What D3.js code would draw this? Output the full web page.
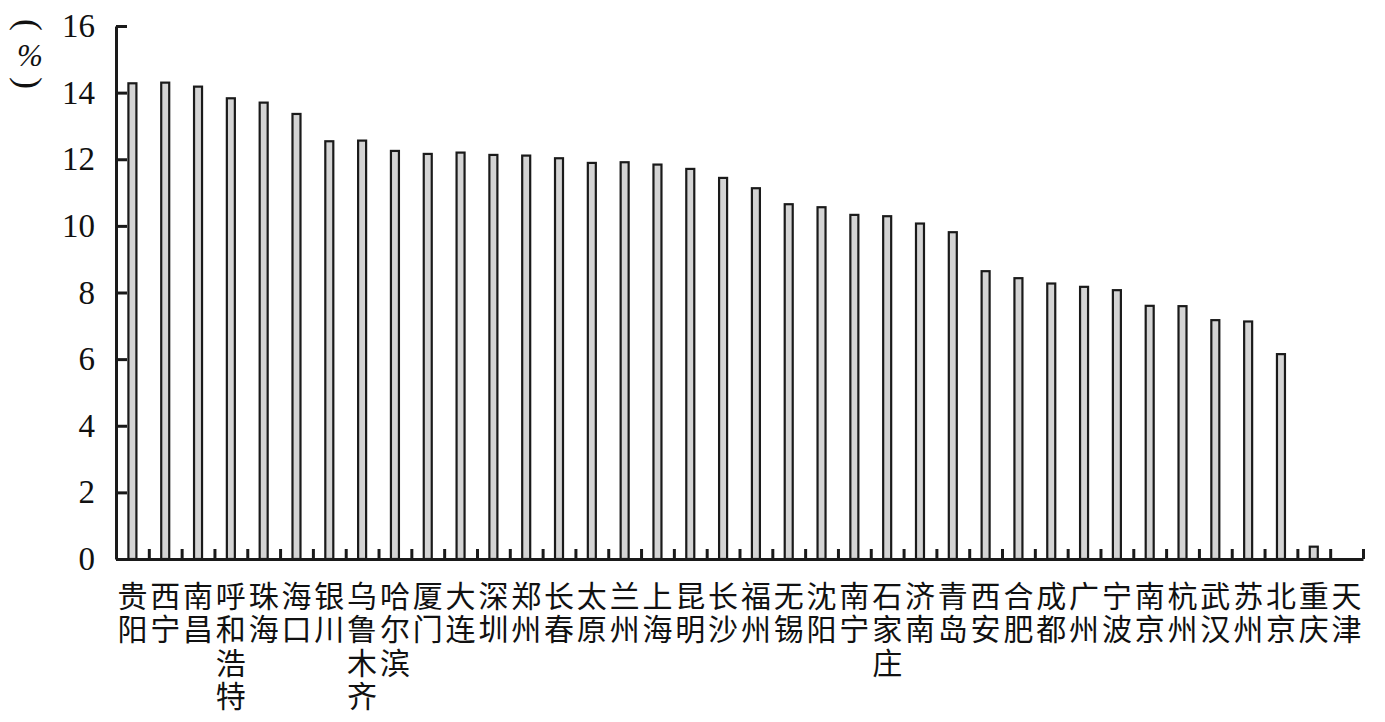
<!DOCTYPE html>
<html>
<head>
<meta charset="utf-8">
<script src="https://cdn.jsdelivr.net/npm/d3@7"></script>
<style>
  body { margin: 0; background: #fff; }
  svg { display: block; }
  .tick text { font-family: "Liberation Serif", serif; }
</style>
</head>
<body>
<div id="chart"></div>
<script>
// city names (characters are drawn one under the other)
var cities = ['贵阳','西宁','南昌','呼和浩特','珠海','海口','银川','乌鲁木齐','哈尔滨','厦门',
  '大连','深圳','郑州','长春','太原','兰州','上海','昆明','长沙','福州',
  '无锡','沈阳','南宁','石家庄','济南','青岛','西安','合肥','成都','广州',
  '宁波','南京','杭州','武汉','苏州','北京','重庆','天津'];

var rates = [14.28, 14.3, 14.18, 13.83, 13.7, 13.36, 12.54, 12.56, 12.25, 12.16,
  12.2, 12.13, 12.11, 12.03, 11.89, 11.91, 11.84, 11.71, 11.44, 11.13,
  10.65, 10.56, 10.33, 10.29, 10.07, 9.81, 8.64, 8.43, 8.27, 8.17,
  8.07, 7.6, 7.59, 7.17, 7.13, 6.15, 0.37, 0];

var yTicks = [0, 2, 4, 6, 8, 10, 12, 14, 16];

var W = 1385, H = 722;
var m = {left: 116, right: 1363, top: 26, bottom: 559};

var svg = d3.select('#chart').append('svg')
  .attr('width', W).attr('height', H);

var x = d3.scaleBand().domain(cities).range([m.left, m.right]).padding(0);
var xIdx = d3.scaleLinear().domain([0, cities.length]).range([m.left, m.right]);
var y = d3.scaleLinear().domain([0, 16]).range([m.bottom, m.top]);

var barW = 8;
var rows = cities.map((c, i) => ({city: c, rate: rates[i]}));

// bars (a zero value draws nothing)
svg.append('g').selectAll('rect')
  .data(rows.filter(d => d.rate > 0))
  .join('rect')
  .attr('x', d => x(d.city) + x.bandwidth() / 2 - barW / 2)
  .attr('y', d => y(d.rate))
  .attr('width', barW)
  .attr('height', d => y(0) - y(d.rate))
  .attr('fill', '#d4d4d4')
  .attr('stroke', '#1a1a1a')
  .attr('stroke-width', 2.2);

// x axis, ticks between categories pointing up
var xAxis = svg.append('g')
  .attr('transform', 'translate(0,' + m.bottom + ')')
  .call(d3.axisBottom(xIdx).tickValues(d3.range(cities.length + 1))
    .tickSizeInner(-10).tickSizeOuter(0).tickFormat(''));
xAxis.selectAll('path,line').attr('stroke', '#1a1a1a').attr('stroke-width', 3);

// y axis, ticks pointing right
var yAxis = svg.append('g')
  .attr('transform', 'translate(' + m.left + ',0)')
  .call(d3.axisLeft(y).tickValues(yTicks).tickSizeInner(-11).tickSizeOuter(0).tickPadding(21));
yAxis.selectAll('path,line').attr('stroke', '#1a1a1a').attr('stroke-width', 3);
yAxis.selectAll('text').attr('font-size', 33).attr('fill', '#111');

// category labels, stacked vertically
var lab = svg.append('g').selectAll('g')
  .data(cities)
  .join('g')
  .attr('transform', d => 'translate(' + (x(d) + x.bandwidth() / 2) + ',0)');
lab.selectAll('text')
  .data(d => d.split(''))
  .join('text')
  .attr('x', 0)
  .attr('y', (c, k) => 594 + k * 33.3)
  .attr('text-anchor', 'middle')
  .attr('dominant-baseline', 'central')
  .attr('font-family', '"Noto Sans CJK SC", sans-serif')
  .attr('font-size', 30)
  .attr('fill', '#111')
  .text(c => c);

// unit label (%) with parentheses turned sideways
var unit = svg.append('g').attr('font-family', '"Liberation Serif", serif').attr('fill', '#111');
unit.append('text')
  .attr('transform', 'translate(29,25) rotate(90)')
  .attr('text-anchor', 'middle').attr('dominant-baseline', 'central')
  .attr('font-size', 36).text('(');
unit.append('text')
  .attr('x', 30).attr('y', 55)
  .attr('text-anchor', 'middle').attr('dominant-baseline', 'central')
  .attr('font-size', 31).attr('font-style', 'italic').text('%');
unit.append('text')
  .attr('transform', 'translate(29,83) rotate(90)')
  .attr('text-anchor', 'middle').attr('dominant-baseline', 'central')
  .attr('font-size', 36).text(')');
</script>
</body>
</html>
